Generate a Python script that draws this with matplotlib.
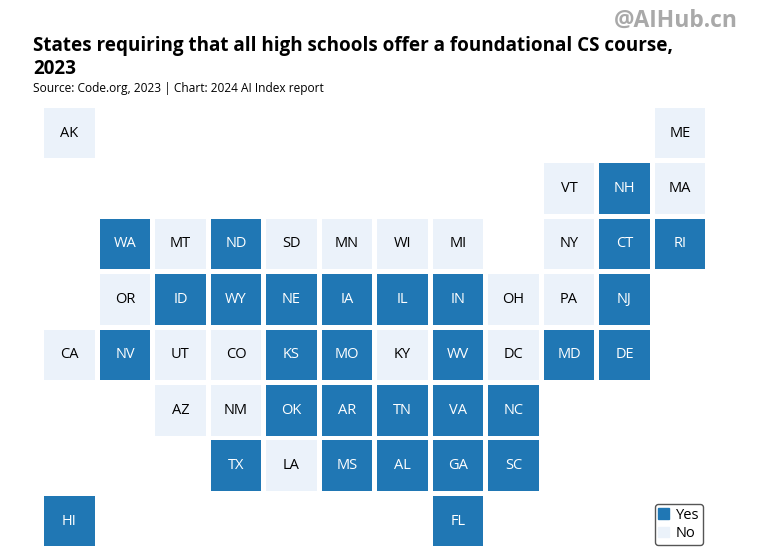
import matplotlib
matplotlib.use('Agg')
import matplotlib.pyplot as plt
from matplotlib.patches import Rectangle, Patch

plt.rcParams['font.family'] = ['Open Sans', 'DejaVu Sans']

# 州ごとの値 (row, col はタイルマップ上の位置)
states = ['AK', 'ME',
          'VT', 'NH', 'MA',
          'WA', 'MT', 'ND', 'SD', 'MN', 'WI', 'MI', 'NY', 'CT', 'RI',
          'OR', 'ID', 'WY', 'NE', 'IA', 'IL', 'IN', 'OH', 'PA', 'NJ',
          'CA', 'NV', 'UT', 'CO', 'KS', 'MO', 'KY', 'WV', 'DC', 'MD', 'DE',
          'AZ', 'NM', 'OK', 'AR', 'TN', 'VA', 'NC',
          'TX', 'LA', 'MS', 'AL', 'GA', 'SC',
          'HI', 'FL']
rows = [0, 0,
        1, 1, 1,
        2, 2, 2, 2, 2, 2, 2, 2, 2, 2,
        3, 3, 3, 3, 3, 3, 3, 3, 3, 3,
        4, 4, 4, 4, 4, 4, 4, 4, 4, 4, 4,
        5, 5, 5, 5, 5, 5, 5,
        6, 6, 6, 6, 6, 6,
        7, 7]
cols = [0, 11,
        9, 10, 11,
        1, 2, 3, 4, 5, 6, 7, 9, 10, 11,
        1, 2, 3, 4, 5, 6, 7, 8, 9, 10,
        0, 1, 2, 3, 4, 5, 6, 7, 8, 9, 10,
        2, 3, 4, 5, 6, 7, 8,
        3, 4, 5, 6, 7, 8,
        0, 7]
required = ['N', 'N',
            'N', 'Y', 'N',
            'Y', 'N', 'Y', 'N', 'N', 'N', 'N', 'N', 'Y', 'Y',
            'N', 'Y', 'Y', 'Y', 'Y', 'Y', 'Y', 'N', 'N', 'Y',
            'N', 'Y', 'N', 'N', 'Y', 'Y', 'N', 'Y', 'N', 'Y', 'Y',
            'N', 'N', 'Y', 'Y', 'Y', 'Y', 'Y',
            'Y', 'N', 'Y', 'Y', 'Y', 'Y',
            'Y', 'Y']

yes_color = '#2077b4'
no_color = '#ebf2fa'

W, H = 767, 555
fig = plt.figure(figsize=(W / 100, H / 100), dpi=100)

# 1マス 55.5px
left = 41.7
top = 105.3
ax = fig.add_axes([left / W, 1 - (top + 8 * 55.45) / H, 12 * 55.5 / W, 8 * 55.45 / H])
ax.set_xlim(0, 12)
ax.set_ylim(8, 0)
ax.axis('off')

size = 0.91
for st, r, c, v in zip(states, rows, cols, required):
    color = yes_color if v == 'Y' else no_color
    ax.add_patch(Rectangle((c + (1 - size) / 2, r + (1 - size) / 2), size, size, color=color, lw=0))
    ax.text(c + 0.5, r + 0.5, st, ha='center', va='center', fontsize=10.5,
            color='white' if v == 'Y' else 'black')

fig.text(33 / W, 1 - 46 / H, 'States requiring that all high schools offer a foundational CS course,',
         fontsize=13.6, fontweight='bold', color='black', va='center')
fig.text(33 / W, 1 - 68.5 / H, '2023', fontsize=13.6, fontweight='bold', color='black', va='center')
fig.text(33 / W, 1 - 88.5 / H, 'Source: Code.org, 2023 | Chart: 2024 AI Index report',
         fontsize=8.6, color='black', va='center')
fig.text(738 / W, 1 - 21 / H, '@AIHub.cn', fontsize=16.5, fontweight='bold', color='#a9a9a9',
         ha='right', va='center')

handles = [Patch(color=yes_color, label='Yes'), Patch(color=no_color, label='No')]
leg = fig.legend(handles=handles, loc='lower right', bbox_to_anchor=(703 / W, 1 - 545 / H),
                 fontsize=10.5, frameon=True, fancybox=True, edgecolor='#555555',
                 handlelength=0.7, handleheight=0.7, handletextpad=0.5, labelspacing=0.25,
                 borderpad=0.25, borderaxespad=0)
leg.get_frame().set_alpha(1)
leg.get_frame().set_linewidth(1)

fig.savefig('out.png', dpi=100)
